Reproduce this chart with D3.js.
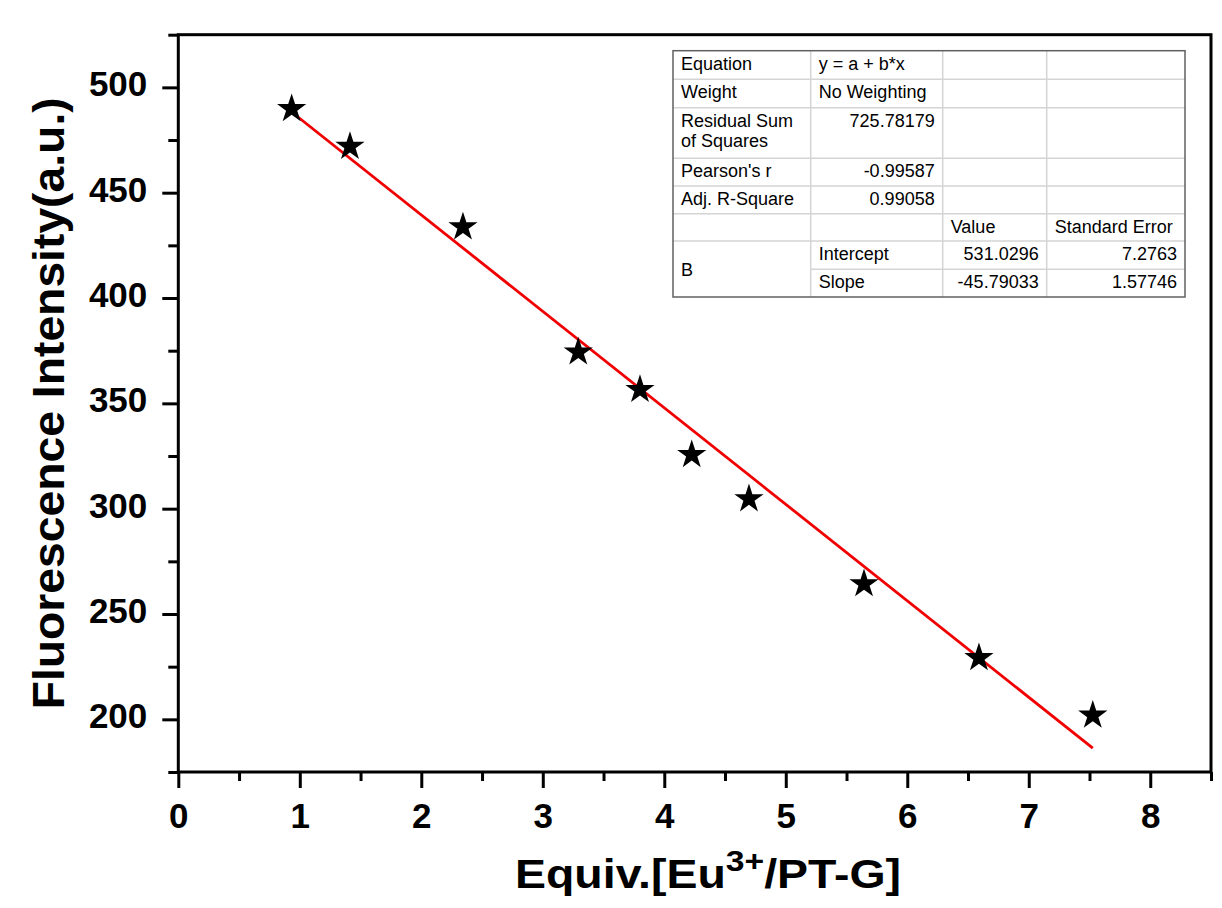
<!DOCTYPE html>
<html>
<head>
<meta charset="utf-8">
<script src="https://cdn.jsdelivr.net/npm/d3@7"></script>
<style>
    body { margin: 0; background: #fff; }
    svg { display: block; font-family: "Liberation Sans", Arial, sans-serif; }
</style>
</head>
<body>
<svg id="chart" width="1222" height="908"></svg>
<script>
var equiv = [0.933, 1.413, 2.343, 3.292, 3.800, 4.226, 4.697, 5.644, 6.590, 7.527];
var intensity = [489.8, 471.9, 433.7, 374.3, 356.5, 325.6, 304.6, 264.3, 229.2, 201.9];

// linear fit, as printed in the table
var fitIntercept = 531.0296;
var fitSlope = -45.79033;

var xMajorTicks = [0, 1, 2, 3, 4, 5, 6, 7, 8];
var xMinorTicks = [0.5, 1.5, 2.5, 3.5, 4.5, 5.5, 6.5, 7.5, 8.5];
var yMajorTicks = [200, 250, 300, 350, 400, 450, 500];
var yMinorTicks = [175, 225, 275, 325, 375, 425, 475, 525];

// fit report table
var tableRows = [
    ["Equation", "y = a + b*x", "", ""],
    ["Weight", "No Weighting", "", ""],
    ["Residual Sum|of Squares", "725.78179", "", ""],
    ["Pearson's r", "-0.99587", "", ""],
    ["Adj. R-Square", "0.99058", "", ""],
    ["", "", "Value", "Standard Error"],
    ["B", "Intercept", "531.0296", "7.2763"],
    ["", "Slope", "-45.79033", "1.57746"]
];
var rightAligned = [
    [false, false, false, false],
    [false, false, false, false],
    [false, true, false, false],
    [false, true, false, false],
    [false, true, false, false],
    [false, false, false, false],
    [false, false, true, true],
    [false, false, true, true]
];

var svg = d3.select("#chart");

var plotLeft = 178.3, plotRight = 1211, plotTop = 34.7, plotBottom = 772;

var x = d3.scaleLinear().domain([0, 8.5]).range([plotLeft, plotRight]);
var y = d3.scaleLinear().domain([175, 525]).range([plotBottom, plotTop]);

// minor ticks
svg.append("g")
    .attr("transform", "translate(0," + plotBottom + ")")
    .call(d3.axisBottom(x).tickValues(xMinorTicks).tickSize(9).tickFormat(""))
    .call(function(g) { g.select(".domain").remove(); })
    .selectAll("line").attr("stroke", "#000").attr("stroke-width", 3);

svg.append("g")
    .attr("transform", "translate(" + plotLeft + ",0)")
    .call(d3.axisLeft(y).tickValues(yMinorTicks).tickSize(10).tickFormat(""))
    .call(function(g) { g.select(".domain").remove(); })
    .selectAll("line").attr("stroke", "#000").attr("stroke-width", 3);

// major ticks with labels
var xAxis = svg.append("g")
    .attr("transform", "translate(0," + plotBottom + ")")
    .call(d3.axisBottom(x).tickValues(xMajorTicks).tickSize(16).tickPadding(15)
        .tickFormat(d3.format("d")));
xAxis.select(".domain").remove();
xAxis.selectAll("line").attr("stroke", "#000").attr("stroke-width", 3);
xAxis.selectAll("text")
    .attr("fill", "#000")
    .attr("font-size", "35px")
    .attr("font-weight", "bold")
    .attr("font-family", "'Liberation Sans', Arial, sans-serif");

var yAxis = svg.append("g")
    .attr("transform", "translate(" + plotLeft + ",0)")
    .call(d3.axisLeft(y).tickValues(yMajorTicks).tickSize(16).tickPadding(15)
        .tickFormat(d3.format("d")));
yAxis.select(".domain").remove();
yAxis.selectAll("line").attr("stroke", "#000").attr("stroke-width", 3);
yAxis.selectAll("text")
    .attr("fill", "#000")
    .attr("dy", "0.24em")
    .attr("font-size", "35px")
    .attr("font-weight", "bold")
    .attr("font-family", "'Liberation Sans', Arial, sans-serif");

// frame
svg.append("rect")
    .attr("x", plotLeft)
    .attr("y", plotTop)
    .attr("width", plotRight - plotLeft)
    .attr("height", plotBottom - plotTop)
    .attr("fill", "none")
    .attr("stroke", "#000")
    .attr("stroke-width", 3);

// fit line
var xFit = d3.extent(equiv);
svg.append("line")
    .attr("x1", x(xFit[0]))
    .attr("y1", y(fitIntercept + fitSlope * xFit[0]))
    .attr("x2", x(xFit[1]))
    .attr("y2", y(fitIntercept + fitSlope * xFit[1]))
    .attr("stroke", "#f00000")
    .attr("stroke-width", 2.8);

// stars
var star = d3.symbol().type(d3.symbolStar).size(265);
svg.selectAll("path.star")
    .data(d3.range(equiv.length))
    .enter()
    .append("path")
    .attr("class", "star")
    .attr("d", star)
    .attr("transform", function(i) {
        return "translate(" + x(equiv[i]) + "," + y(intensity[i]) + ")";
    })
    .attr("fill", "#000");

// axis titles
svg.append("text")
    .attr("transform", "translate(64," + ((plotTop + plotBottom) / 2) + ") rotate(-90)")
    .attr("text-anchor", "middle")
    .attr("font-size", "45px")
    .attr("font-weight", "bold")
    .attr("textLength", 612)
    .attr("lengthAdjust", "spacingAndGlyphs")
    .text("Fluorescence Intensity(a.u.)");

var xTitle = svg.append("text")
    .attr("x", 515)
    .attr("y", 888)
    .attr("font-size", "40px")
    .attr("font-weight", "bold")
    .attr("textLength", 386)
    .attr("lengthAdjust", "spacingAndGlyphs");
xTitle.append("tspan").text("Equiv.[Eu");
xTitle.append("tspan").attr("font-size", "29px").attr("dy", -17).text("3+");
xTitle.append("tspan").attr("dy", 17).text("/PT-G]");

// fit report table
var colEdges = [673, 810.7, 942.7, 1046.7, 1185];
var rowEdges = [50.7, 79.3, 107.7, 158.3, 186, 213.7, 241, 269.3, 297];

var table = svg.append("g").attr("font-size", "18px").attr("fill", "#000");

table.append("rect")
    .attr("x", colEdges[0])
    .attr("y", rowEdges[0])
    .attr("width", colEdges[4] - colEdges[0])
    .attr("height", rowEdges[8] - rowEdges[0])
    .attr("fill", "#fff");

// inner grid
for (var r = 1; r < rowEdges.length - 1; r++) {
    // the "B" cell spans the last two rows
    var startX = (r == 7) ? colEdges[1] : colEdges[0];
    table.append("line")
        .attr("x1", startX).attr("x2", colEdges[4])
        .attr("y1", rowEdges[r]).attr("y2", rowEdges[r])
        .attr("stroke", "#d4d4d4").attr("stroke-width", 1.5);
}
for (var c = 1; c < colEdges.length - 1; c++) {
    table.append("line")
        .attr("x1", colEdges[c]).attr("x2", colEdges[c])
        .attr("y1", rowEdges[0]).attr("y2", rowEdges[8])
        .attr("stroke", "#d4d4d4").attr("stroke-width", 1.5);
}

table.append("rect")
    .attr("x", colEdges[0])
    .attr("y", rowEdges[0])
    .attr("width", colEdges[4] - colEdges[0])
    .attr("height", rowEdges[8] - rowEdges[0])
    .attr("fill", "none")
    .attr("stroke", "#606060")
    .attr("stroke-width", 1.5);

tableRows.forEach(function(row, ri) {
    row.forEach(function(cell, ci) {
        if (!cell) {
            return;
        }
        var lines = cell.split("|");
        var alignRight = rightAligned[ri][ci];
        var tx = alignRight ? colEdges[ci + 1] - 8 : colEdges[ci] + 8;
        var ty = rowEdges[ri] + 19;
        if (ri == 6 && ci == 0) {
            // spans two rows, vertically centred
            ty = (rowEdges[6] + rowEdges[8]) / 2 + 6.5;
        }
        var t = table.append("text")
            .attr("x", tx)
            .attr("y", ty)
            .attr("text-anchor", alignRight ? "end" : "start");
        lines.forEach(function(line, li) {
            t.append("tspan")
                .attr("x", tx)
                .attr("dy", li == 0 ? 0 : 20)
                .text(line);
        });
    });
});
</script>
</body>
</html>
